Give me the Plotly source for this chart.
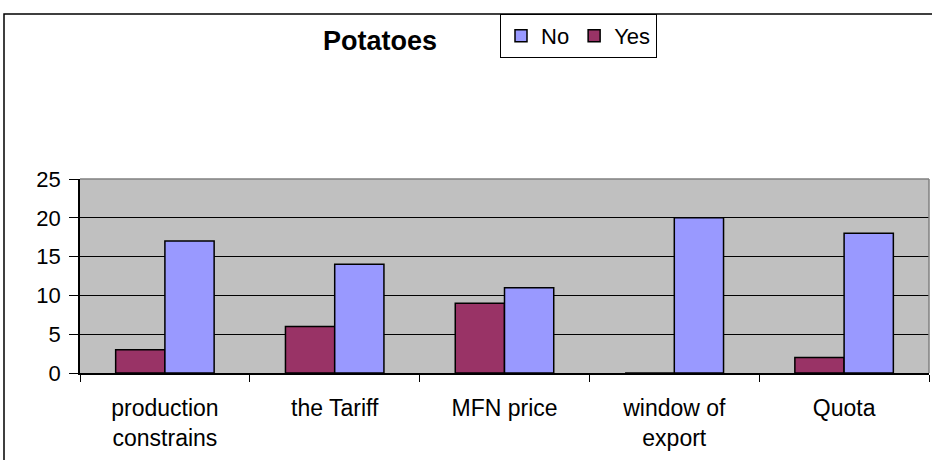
import plotly.graph_objects as go

categories = ["production<br>constrains", "the Tariff", "MFN price", "window of<br>export", "Quota"]
yes_values = [3, 6, 9, 0, 2]
no_values = [17, 14, 11, 20, 18]
title_text = "Potatoes"

W, H = 932, 460
L, R, T, B = 80, 3, 179, 87
pw = W - L - R
ph = H - T - B

def px_x(x):
    return (x - L) / pw

def px_y(y):
    return (H - B - y) / ph

fig = go.Figure()
fig.add_trace(go.Bar(x=categories, y=yes_values, name="Yes",
                     marker=dict(color="#993366", line=dict(color="black", width=1.5))))
fig.add_trace(go.Bar(x=categories, y=no_values, name="No",
                     marker=dict(color="#9999FF", line=dict(color="black", width=1.5))))

font_family = "Liberation Sans, Arial, sans-serif"

fig.update_layout(
    width=W, height=H,
    margin=dict(l=L, r=R, t=T, b=B, autoexpand=False),
    paper_bgcolor="white",
    plot_bgcolor="#C0C0C0",
    barmode="group",
    bargap=0.42,
    bargroupgap=0,
    font=dict(family=font_family, color="black", size=22),
    title=dict(text="<b>" + title_text + "</b>", x=380 / W, xanchor="center",
               y=1 - 41 / H, yanchor="middle", xref="container", yref="container",
               font=dict(size=27, family=font_family, color="black")),
    legend=dict(orientation="h", traceorder="reversed",
                x=px_x(500), xanchor="left", y=px_y(14), yanchor="top",
                bordercolor="black", borderwidth=1, bgcolor="white",
                font=dict(size=22, family=font_family, color="black"),
                itemwidth=30),
    showlegend=True,
    xaxis=dict(showline=True, linecolor="black", linewidth=1.5,
               ticks="outside", tickson="boundaries", ticklen=7, tickcolor="black",
               ticklabelstandoff=14,
               tickfont=dict(size=23), showgrid=False),
    yaxis=dict(range=[0, 25], dtick=5, showline=True, linecolor="black", linewidth=1.5,
               ticks="outside", ticklen=9, tickcolor="black",
               gridcolor="black", gridwidth=1, zeroline=False,
               ticklabelstandoff=4,
               tickfont=dict(size=22)),
    shapes=[
        dict(type="line", xref="paper", yref="paper", x0=0, x1=1, y0=1, y1=1,
             line=dict(color="#808080", width=1.5)),
        dict(type="line", xref="paper", yref="paper", x0=1, x1=1, y0=0, y1=1,
             line=dict(color="#808080", width=1.5)),
        dict(type="rect", xref="paper", yref="paper", x0=px_x(4), x1=px_x(1000),
             y0=px_y(600), y1=px_y(14), line=dict(color="black", width=1.5)),
    ],
)

fig.write_html("out.html", config={"displayModeBar": False},
               post_script="document.body.style.margin='0';")
